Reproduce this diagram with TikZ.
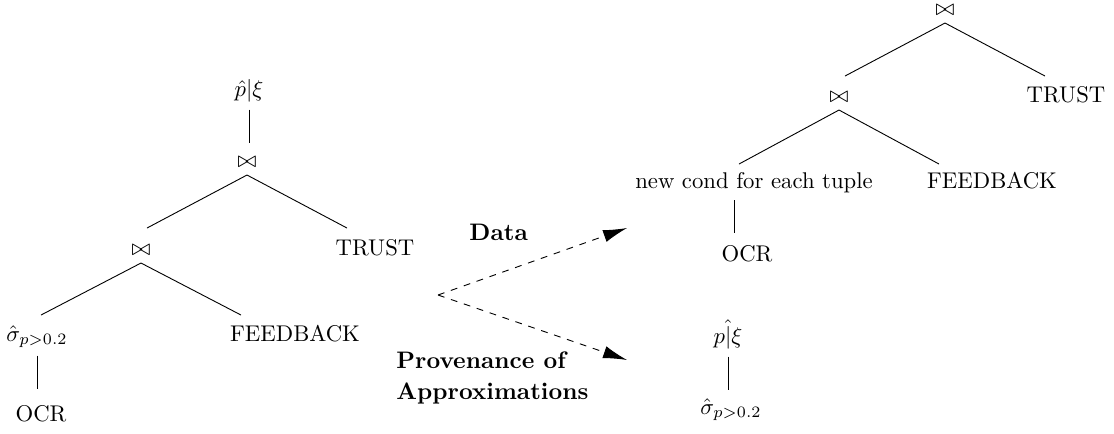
\documentclass[tikz,border=0pt]{standalone}
\usetikzlibrary{arrows.meta}
\begin{document}
\begin{tikzpicture}[x=0.44pt,y=-0.44pt,
  tn/.style={anchor=base,inner sep=3.333pt},
  edge/.style={line width=0.4pt},
  flow/.style={dashed,line width=0.4pt,-{Latex[length=10.5pt,width=5.5pt]}},
  lab/.style={font=\fontsize{10.5}{13.6}\selectfont\bfseries,inner sep=0pt,align=left}]
\useasboundingbox (0,0) rectangle (1114,433);

% left tree
\node[tn] (lp)     at (249,96)  {$\hat{p}|\xi$};
\node[tn] (lj1)    at (247,167) {$\bowtie$};
\node[tn] (lj2)    at (141,255) {$\bowtie$};
\node[tn] (ltrust) at (375,255) {TRUST};
\node[tn] (lsig)   at (37,341)  {$\hat{\sigma}_{p>0.2}$};
\node[tn] (lfb)    at (295,341) {FEEDBACK};
\node[tn] (locr)   at (41,421)  {OCR};

\draw[edge] (lp.south) -- ++(0,33);
\draw[edge] (lj1.south) -- ++(-100,53);
\draw[edge] (lj1.south) -- ++(100,53);
\draw[edge] (lj2.south) -- ++(-100,52);
\draw[edge] (lj2.south) -- ++(100,52);
\draw[edge] (lsig.south) -- ++(0,33);

% right tree
\node[tn] (rj1)    at (945,15)  {$\bowtie$};
\node[tn] (rj2)    at (839,102) {$\bowtie$};
\node[tn] (rtrust) at (1066,102) {TRUST};
\node[tn] (rnew)   at (754,188) {new cond for each tuple};
\node[tn] (rfb)    at (992,188) {FEEDBACK};
\node[tn] (rocr)   at (747,261) {OCR};

\draw[edge] (rj1.south) -- ++(-100,53);
\draw[edge] (rj1.south) -- ++(100,53);
\draw[edge] (rj2.south) -- ++(-100,54);
\draw[edge] (rj2.south) -- ++(100,54);
\draw[edge] ([xshift=-8.8pt]rnew.south) -- ++(0,33);

% bottom right
\node[tn] (bp)   at (728,343) {$\hat{p|\xi}$};
\node[tn] (bsig) at (731,414) {$\hat{\sigma}_{p>0.2}$};
\draw[edge] (bp.south) -- ++(0,33);

% arrows and labels
\coordinate (src) at (438,295);
\coordinate (t1) at (627,228);
\coordinate (t2) at (627,360);
\draw[flow] (src) -- (t1);
\draw[flow] (src) -- (t2);
\node[lab,anchor=base west] (data) at (469,240) {Data};
\node[lab,anchor=north west] (prov) at (396,351) {Provenance of\\Approximations};
\end{tikzpicture}
\end{document}
